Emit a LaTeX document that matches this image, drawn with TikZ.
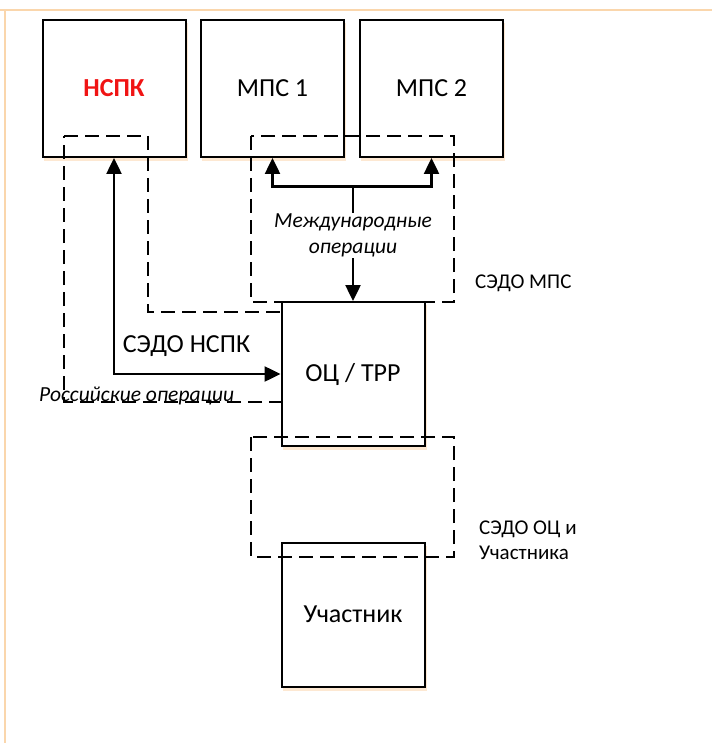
\documentclass[tikz,border=0pt]{standalone}
\usepackage{fontspec}
\setmainfont{Carlito}
\usetikzlibrary{arrows.meta}
\definecolor{frameor}{RGB}{250,214,172}
\definecolor{shadowor}{RGB}{253,232,210}
\definecolor{nspkred}{RGB}{240,20,20}
\begin{document}
\begin{tikzpicture}[x=1pt,y=-1pt,
  box/.style={draw=black,line width=2pt,fill=white,minimum width=143pt,minimum height=137pt,inner sep=0pt,font=\fontsize{26}{30}\selectfont},
  tallbox/.style={box,minimum height=144pt},
  region/.style={draw=black,line width=2pt,dash pattern=on 14pt off 7pt},
  conn/.style={draw=black,line width=2.5pt,-{Triangle[length=16pt,width=15pt]}},
  conn2/.style={draw=black,line width=2.5pt,{Triangle[length=16pt,width=15pt]}-{Triangle[length=16pt,width=15pt]}},
  sidelabel/.style={font=\fontsize{21}{25.5}\selectfont,align=left,anchor=west,inner sep=0pt},
  itlabel/.style={font=\fontsize{21.5}{25.5}\itshape,align=center,inner sep=1pt}
]
\useasboundingbox (0,0) rectangle (712,743);
\fill[white] (0,0) rectangle (712,743);
% orange frame lines
\draw[frameor,line width=2pt] (0,10.5) -- (712,10.5);
\draw[frameor,line width=2pt] (5,10.5) -- (5,743);
% shadows
\foreach \cx/\cy/\h in {114/88.5/137, 272.5/88.5/137, 431.5/88.5/137, 353/374/144, 353/614.5/144}{
  \fill[shadowor] (\cx-71.5+1,\cy-\h/2+3) rectangle (\cx+71.5+2,\cy+\h/2+4);
}
% boxes
\node[box] (nspk) at (114,88.5) {\textcolor{nspkred}{\bfseries НСПК}};
\node[box] (mps1) at (272.5,88.5) {МПС 1};
\node[box] (mps2) at (431.5,88.5) {МПС 2};
\node[tallbox] (oc) at (353,374) {ОЦ / ТРР};
\node[tallbox] (part) at (353,614.5) {Участник};
% dashed regions
\draw[region] (64,136) -- (148,136) -- (148,312) -- (282,312) -- (282,402) -- (64,402) -- cycle;
\draw[region] (251,136) rectangle (454,302);
\draw[region] (251,437) rectangle (454,557);
% connectors
\coordinate (j) at (353,186.5);
\draw[conn2] (nspk.south) |- (oc.west);
\draw[conn] (j) -| (mps1.south);
\draw[conn] (j) -| (mps2.south);
\draw[conn] (j) -- (oc.north);
% labels
\node[itlabel,fill=white] (intl) at (353,235.5) {Международные\\операции};
\node[font=\fontsize{26}{30}\selectfont,inner sep=0pt] (sedonspk) at (186.5,346) {СЭДО НСПК};
\node[itlabel,anchor=west,inner sep=0pt] (rus) at (39,396) {Российские операции};
\node[sidelabel] (sedomps) at (475,283) {СЭДО МПС};
\node[sidelabel] (sedooc) at (479,540.5) {СЭДО ОЦ и\\Участника};
\end{tikzpicture}
\end{document}
